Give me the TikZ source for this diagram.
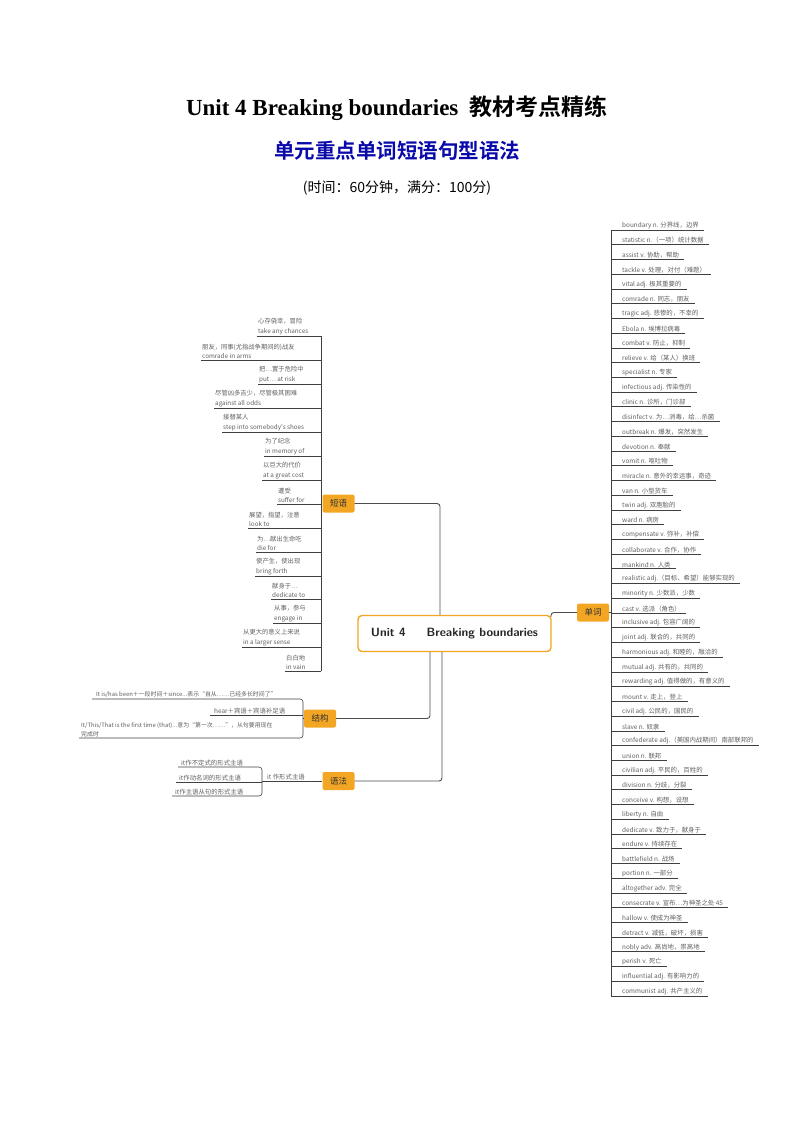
\documentclass[tikz,border=0pt]{standalone}
\usepackage{fontspec}
\setmainfont{Liberation Serif}
\newfontfamily\cjk{Noto Sans CJK SC}
\newfontfamily\cjkb{Noto Sans CJK SC}[BoldFont={Noto Sans CJK SC Bold}]
\definecolor{tagor}{RGB}{242,166,35}
\definecolor{titblue}{RGB}{10,10,170}
\definecolor{txt}{RGB}{95,95,95}
\begin{document}
\begin{tikzpicture}[x=1pt,y=-1pt,
  tag/.style={fill=tagor,rounded corners=2pt,minimum width=32pt,minimum height=18pt,inner sep=1pt,font=\cjk\fontsize{8.5}{9}\selectfont,text=black!80},
  item/.style={anchor=south west,inner sep=1pt,font=\cjk\fontsize{6.4}{7.5}\selectfont,text=txt,align=left},
  ul/.style={draw=black!75,line width=0.6pt},
  conn/.style={draw=black!70,line width=0.9pt,rounded corners=3pt}]
\useasboundingbox (0,0) rectangle (794,1123);
% header
\node (t1) at (397,108) {\fontsize{23}{25}\selectfont\bfseries Unit 4 Breaking boundaries\ \ {\cjkb\bfseries 教材考点精练}};
\node (t2) at (397,151) {\cjkb\bfseries\fontsize{20.5}{22}\selectfont\color{titblue}单元重点单词短语句型语法};
\node (t3) at (397,188) {\cjk\fontsize{14}{16}\selectfont (时间：60分钟，满分：100分)};
% center
\node[draw=tagor,line width=1.4pt,fill=white,rounded corners=4pt,minimum width=193pt,minimum height=36pt,font=\sffamily\bfseries\fontsize{12}{14}\selectfont,text=black!85] (c) at (454.5,633.5) {Unit 4\quad\ \ Breaking boundaries};
\node[tag] (dc) at (593,612.5) {单词};
\node[tag] (dy) at (338.5,503.5) {短语};
\node[tag] (jg) at (320,718.5) {结构};
\node[tag] (yf) at (338.5,781) {语法};
\coordinate (c1) at (551,617);
\draw[conn] (c1) -- (551,612.5) -- (dc.west);
\draw[conn] (dy.east) -| (c.north -| 440,0);
\draw[conn] (jg.east) -| (c.south -| 430,0);
\draw[conn] (yf.east) -| (c.south -| 442,0);
% words
\coordinate (wt) at (611,230);
\coordinate (wb) at (611,995.96);
\draw[ul] (dc.east) -- (611,612.5);
\draw[ul] (wt) -- (wb);
\foreach \t [count=\i] in {
{boundary n. 分界线，边界},{statistic n.（一项）统计数据},{assist v. 协助，帮助},{tackle v. 处理，对付（难题）},{vital adj. 极其重要的},{comrade n. 同志，朋友},{tragic adj. 悲惨的，不幸的},{Ebola n. 埃博拉病毒},{combat v. 防止，抑制},{relieve v. 给（某人）换班},{specialist n. 专家},{infectious adj. 传染性的},{clinic n. 诊所，门诊部},{disinfect v. 为…消毒，给…杀菌},{outbreak n. 爆发，突然发生},{devotion n. 奉献},{vomit n. 呕吐物},{miracle n. 意外的幸运事，奇迹},{van n. 小型货车},{twin adj. 双胞胎的},{ward n. 病房},{compensate v. 弥补，补偿},{collaborate v. 合作，协作},{mankind n. 人类},{realistic adj.（目标、希望）能够实现的},{minority n. 少数派，少数},{cast v. 选派（角色）},{inclusive adj. 包容广阔的},{joint adj. 联合的，共同的},{harmonious adj. 和睦的，融洽的},{mutual adj. 共有的，共同的},{rewarding adj. 值得做的，有意义的},{mount v. 走上，登上},{civil adj. 公民的，国民的},{slave n. 奴隶},{confederate adj.（美国内战期间）南部联邦的},{union n. 联邦},{civilian adj. 平民的，百姓的},{division n. 分歧，分裂},{conceive v. 构想，设想},{liberty n. 自由},{dedicate v. 致力于，献身于},{endure v. 持续存在},{battlefield n. 战场},{portion n. 一部分},{altogether adv. 完全},{consecrate v. 宣布…为神圣之处 45},{hallow v. 使成为神圣},{detract v. 减低，破坏，损害},{nobly adv. 高尚地，崇高地},{perish v. 死亡},{influential adj. 有影响力的},{communist adj. 共产主义的}}{
  \pgfmathsetmacro\yy{230+14.73*(\i-1)}
  \node[item] (w\i) at (621,\yy) {\t};
  \draw[ul] (611,\yy) -- ([xshift=4pt]w\i.south east);
}
% phrases
\coordinate (pt) at (321,336);
\coordinate (pb) at (321,671);
\draw[ul] (pt) -- (pb);
\foreach \a/\b/\x/\y [count=\i] in {
{心存侥幸，冒险}/{take any chances}/257/336,
{朋友，同事(尤指战争期间的)战友}/{comrade in arms}/201/360,
{把…置于危险中}/{put\ldots\ at risk}/258/384,
{尽管凶多吉少，尽管极其困难}/{against all odds}/214/408,
{接替某人}/{step into somebody's shoes}/222/432,
{为了纪念}/{in memory of}/264/456,
{以巨大的代价}/{at a great cost}/262/480,
{遭受}/{suffer for}/277/504,
{展望，指望，注意}/{look to}/248/528,
{为…献出生命吃}/{die for}/256/552,
{使产生，使出现}/{bring forth}/255/576,
{献身于…}/{dedicate to}/271/599,
{从事，参与}/{engage in}/273/623,
{从更大的意义上来说}/{in a larger sense}/242/647,
{白白地}/{in vain}/285/671}{
  \node[item,font=\cjk\fontsize{6.3}{9.5}\selectfont] (p\i) at (\x,\y) {\a\\\b};
  \draw[ul] (\x,\y) -- (321,\y);
}
% structures
\draw[ul,rounded corners=3pt] (92,699) -- (303,699) -- (303,738) -- (79,738);
\draw[ul] (303,718.5) -- (jg.west);
\draw[ul] (210,715) -- (303,715);
\node[item,font=\cjk\fontsize{5.9}{7}\selectfont] (s1) at (95,699) {It is/has been＋一段时间＋since...表示“自从……已经多长时间了”};
\node[item] (s2) at (213,715) {hear＋宾语＋宾语补足语};
\node[item,font=\cjk\fontsize{5.9}{9}\selectfont] (s3) at (80,738) {It/This/That is the first time (that)...意为“第一次……”，从句要用现在\\完成时};
% grammar
\draw[ul] (262,781) -- (yf.west);
\node[item] (g0) at (266,781) {it 作形式主语};
\draw[ul,rounded corners=3pt] (178,767) -- (262,767) -- (262,796) -- (172,796);
\draw[ul] (176,782) -- (262,782);
\node[item] (g1) at (180,767) {it作不定式的形式主语};
\node[item] (g2) at (178,782) {it作动名词的形式主语};
\node[item] (g3) at (174,796) {it作主语从句的形式主语};
\end{tikzpicture}
\end{document}
